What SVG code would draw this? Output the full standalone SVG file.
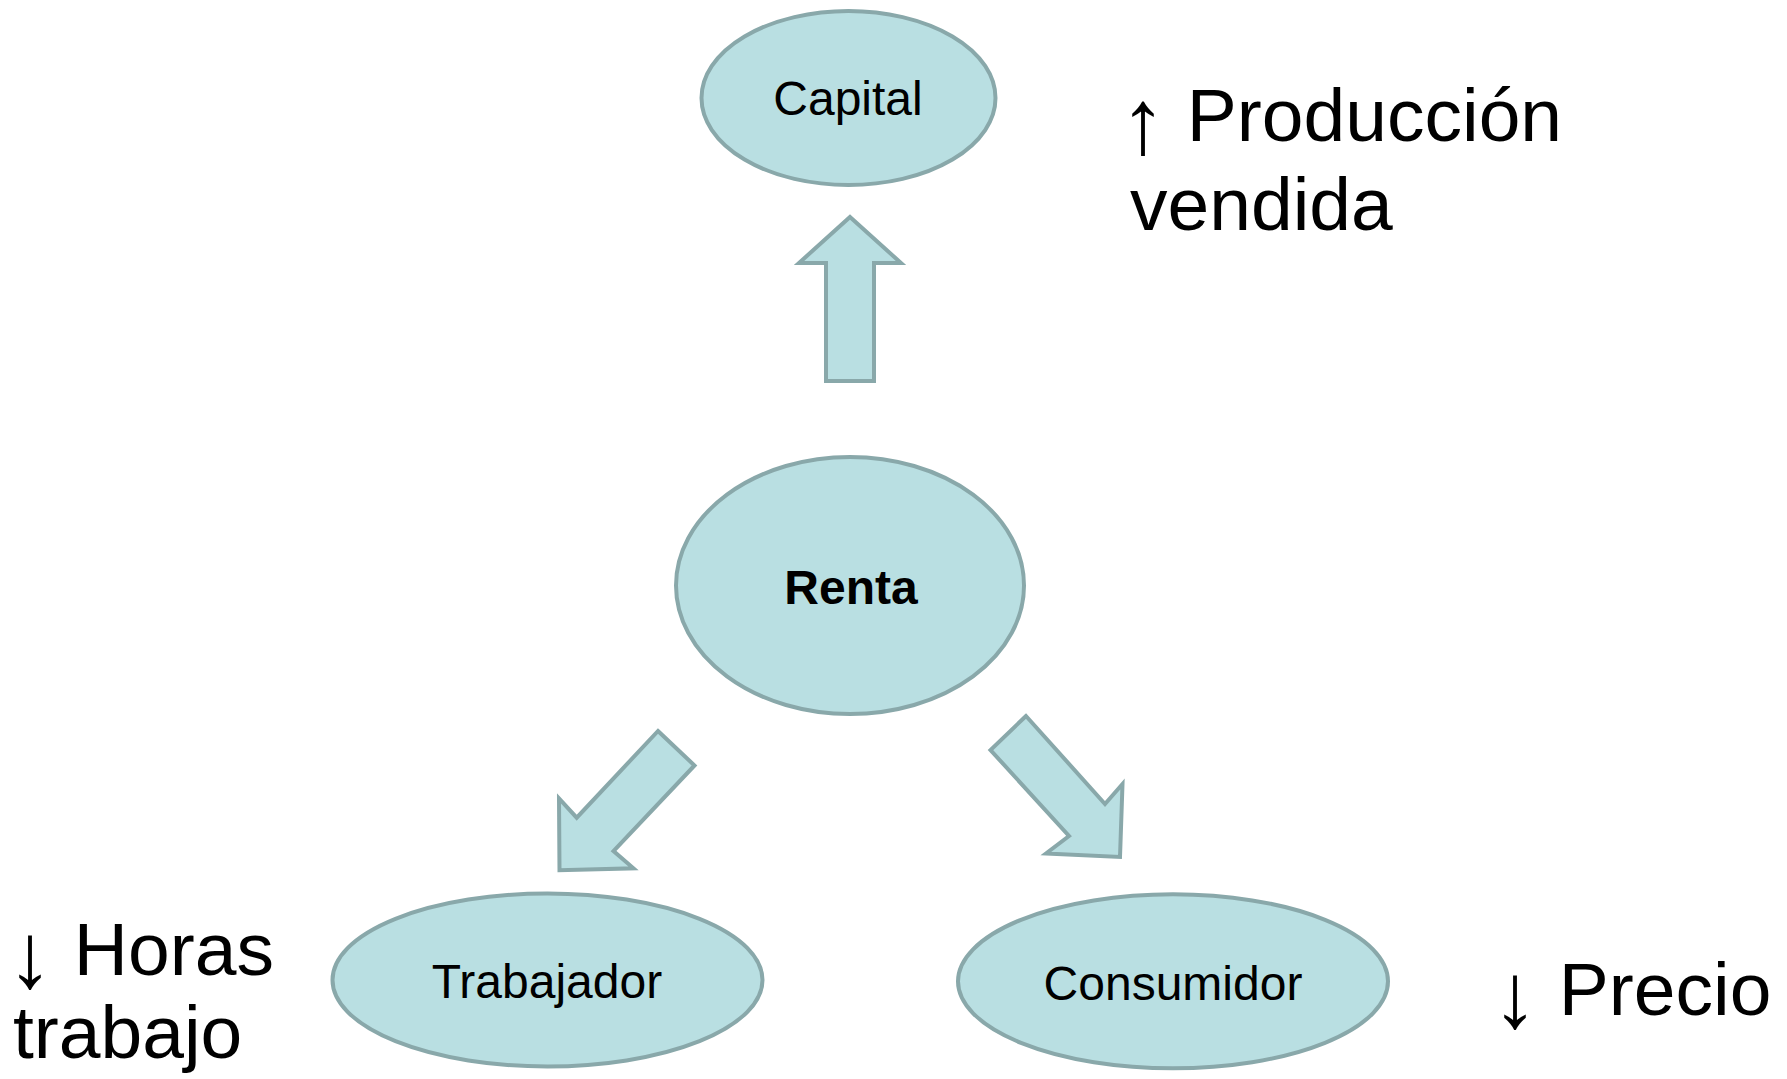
<svg xmlns="http://www.w3.org/2000/svg" width="1787" height="1079" viewBox="0 0 1787 1079">
<style>
.node{fill:#B9DFE2;stroke:#89A8AA;stroke-width:4}
.arrow{fill:#B9DFE2;stroke:#89A8AA;stroke-width:4;stroke-linejoin:miter}
.lbl{font-family:"Liberation Sans",Arial,sans-serif;font-size:48px;fill:#000;text-anchor:middle}
.big{font-family:"Liberation Sans",Arial,sans-serif;font-size:75px;fill:#000}
.sym{font-size:92px}
</style>
<rect width="1787" height="1079" fill="#FFFFFF"/>
<g id="connectors">
<polygon class="arrow" points="850,217 901,263 874,263 874,381 826,381 826,263 799,263"/>
<polygon class="arrow" points="658,731 694.5,765.5 613.5,851 633.5,868.3 559.5,870.3 559,798.5 576.7,817.7"/>
<polygon class="arrow" points="1026,716 990.5,750 1069,836 1046,853.5 1120,857 1122.5,784 1105,804"/>
</g>
<g id="capital">
<ellipse class="node" cx="848.5" cy="98" rx="147" ry="87"/>
<text class="lbl" x="848" y="115">Capital</text>
</g>
<g id="renta">
<ellipse class="node" cx="850" cy="585.5" rx="174" ry="128.5"/>
<text class="lbl" x="851" y="604" font-weight="bold">Renta</text>
</g>
<g id="trabajador">
<ellipse class="node" cx="547.5" cy="980" rx="215" ry="86.5"/>
<text class="lbl" x="547" y="998">Trabajador</text>
</g>
<g id="consumidor">
<ellipse class="node" cx="1173" cy="981.3" rx="215" ry="87"/>
<text class="lbl" x="1173" y="1000">Consumidor</text>
</g>
<g id="notes">
<text class="big" y="141"><tspan class="sym" x="1143" y="153" text-anchor="middle">↑</tspan><tspan x="1166" y="141"> Producción</tspan></text>
<text class="big" x="1130" y="230">vendida</text>
<text class="big" y="975"><tspan class="sym" x="30" y="987" text-anchor="middle">↓</tspan><tspan x="53" y="975"> Horas</tspan></text>
<text class="big" x="13" y="1058">trabajo</text>
<text class="big" y="1015"><tspan class="sym" x="1515" y="1027" text-anchor="middle">↓</tspan><tspan x="1538" y="1015"> Precio</tspan></text>
</g>
</svg>
